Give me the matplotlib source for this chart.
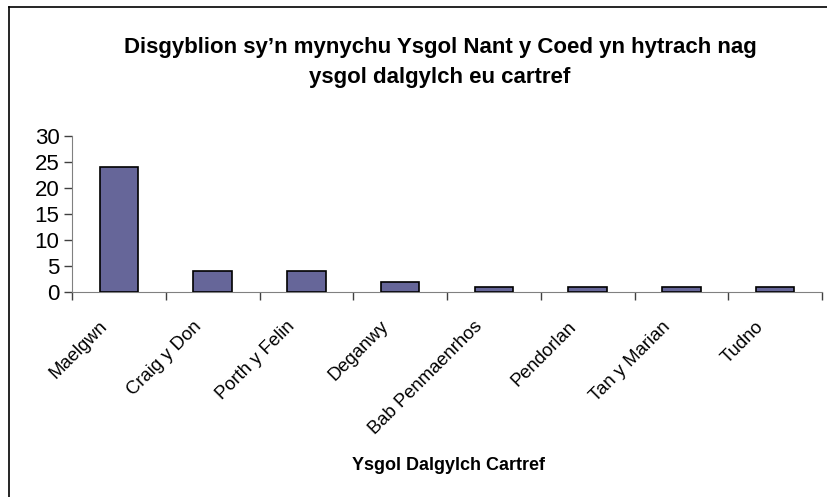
import matplotlib
matplotlib.use("Agg")
import matplotlib.pyplot as plt
from matplotlib.lines import Line2D
import numpy as np

plt.rcParams['font.family'] = ['Liberation Sans', 'DejaVu Sans']

schools = ["Maelgwn", "Craig y Don", "Porth y Felin", "Deganwy",
           "Bab Penmaenrhos", "Pendorlan", "Tan y Marian", "Tudno"]
pupils = [24, 4, 4, 2, 1, 1, 1, 1]
y_ticks = [0, 5, 10, 15, 20, 25, 30]

W, H = 827, 497
fig = plt.figure(figsize=(W / 100, H / 100), dpi=100)
ax = fig.add_axes([72 / W, 1 - 292 / H, 750 / W, 156 / H])

x = np.arange(len(schools))
ax.bar(x, pupils, width=0.41, color="#666699", edgecolor="black", linewidth=1.2, zorder=3)

ax.set_xlim(-0.5, len(schools) - 0.5)
ax.set_ylim(0, 30)
ax.set_yticks(y_ticks)
ax.set_yticklabels([str(v) for v in y_ticks], fontsize=16)
ax.tick_params(axis="y", length=6, width=1, pad=3, color="#404040")

# category ticks sit on boundaries, labels at centres
ax.set_xticks(np.arange(len(schools) + 1) - 0.5)
ax.set_xticklabels([])
ax.tick_params(axis="x", length=6, width=1, color="#404040")
for i, name in enumerate(schools):
    ax.annotate(name, xy=(i, 0), xytext=(-10, -23), textcoords="offset points",
                rotation=45, rotation_mode="anchor", ha="right", va="center",
                fontsize=13.3, annotation_clip=False)

for s in ["top", "right"]:
    ax.spines[s].set_visible(False)
ax.spines["left"].set_color("#808080")
ax.spines["bottom"].set_color("#808080")

fig.text(440 / W, 1 - 47 / H, "Disgyblion sy\u2019n mynychu Ysgol Nant y Coed yn hytrach nag",
         ha="center", va="center", fontsize=16, fontweight="bold")
fig.text(440 / W, 1 - 78 / H, "ysgol dalgylch eu cartref",
         ha="center", va="center", fontsize=16, fontweight="bold")
fig.text(448 / W, 1 - 466 / H, "Ysgol Dalgylch Cartref",
         ha="center", va="center", fontsize=13, fontweight="bold")

# chart area border (only top and left visible in the crop)
fig.add_artist(Line2D([9 / W, 1.0], [1 - 7 / H, 1 - 7 / H], color="black", lw=1.2,
                      transform=fig.transFigure))
fig.add_artist(Line2D([9 / W, 9 / W], [0.0, 1 - 7 / H], color="black", lw=1.2,
                      transform=fig.transFigure))

fig.savefig("out.png", dpi=100)
